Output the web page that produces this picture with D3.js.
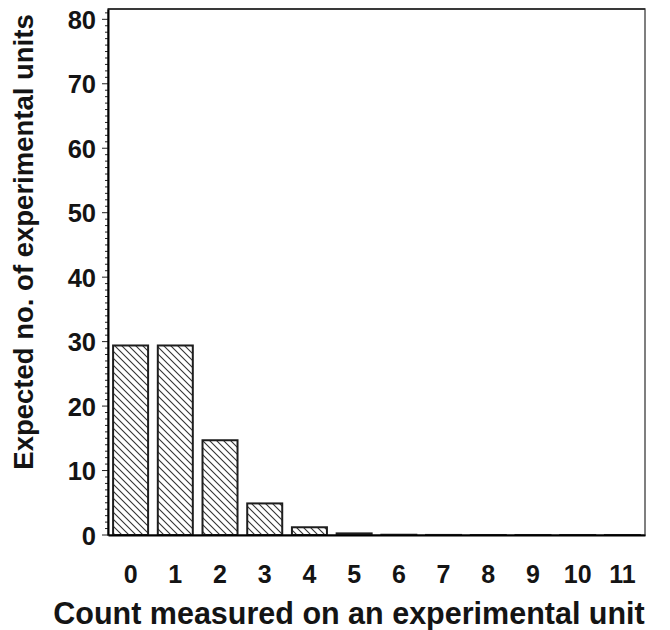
<!DOCTYPE html>
<html><head><meta charset="utf-8">
<script src="https://cdn.jsdelivr.net/npm/d3@7"></script>
<style>
html,body{margin:0;padding:0;background:#fff;}
text{font-family:"Liberation Sans",Arial,sans-serif;font-weight:bold;fill:#141414;}
</style></head>
<body>
<svg id="chart" width="670" height="630"></svg>
<script>
const categories = ["0","1","2","3","4","5","6","7","8","9","10","11"];
const expectedUnits = [29.4, 29.4, 14.7, 4.9, 1.2, 0.25, 0.04, 0.01, 0.001, 0.001, 0.001, 0.001];
const yTickValues = [0, 10, 20, 30, 40, 50, 60, 70, 80];
const xTitle = "Count measured on an experimental unit";
const yTitle = "Expected no. of experimental units";

(function(){
const svg = d3.select("#chart");
const pLeft = 108, pRight = 645, pTop = 9, pBottom = 535;

const x = d3.scaleBand().domain(categories).range([pLeft, pRight]).paddingInner(0.217).paddingOuter(0.114);
const y = d3.scaleLinear().domain([0, 81.6]).range([pBottom, pTop]);

const defs = svg.append("defs");
const pat = defs.append("pattern").attr("id","hatch").attr("patternUnits","userSpaceOnUse")
  .attr("width",7).attr("height",7);
pat.append("rect").attr("width",7).attr("height",7).attr("fill","#fff");
pat.append("path").attr("d","M-1,-1 L8,8 M-1,6 L1,8 M6,-1 L8,1").attr("stroke","#333").attr("stroke-width",1.1);

// frame
svg.append("rect").attr("x",pLeft).attr("y",pTop).attr("width",pRight-pLeft).attr("height",pBottom-pTop)
  .attr("fill","none").attr("stroke","#555").attr("stroke-width",1.5);
svg.append("line").attr("x1",pLeft).attr("x2",pRight).attr("y1",pTop).attr("y2",pTop).attr("stroke","#222").attr("stroke-width",1.5);

// bars
svg.append("g").selectAll("rect").data(expectedUnits).join("rect")
  .attr("x",(d,i)=>x(categories[i]))
  .attr("width",x.bandwidth())
  .attr("y",d=>y(d))
  .attr("height",d=>pBottom - y(d))
  .attr("fill","url(#hatch)")
  .attr("stroke","#1e1e1e").attr("stroke-width",2);

// y axis minor ticks
const minor = d3.range(0, 82, 1);
svg.append("g").selectAll("line").data(minor).join("line")
  .attr("x1",pLeft).attr("x2",d=> d%10===0 ? pLeft-6 : pLeft-3)
  .attr("y1",d=>y(d)).attr("y2",d=>y(d))
  .attr("stroke","#222").attr("stroke-width",1);

// y axis
const yAxis = d3.axisLeft(y).tickValues(yTickValues).tickSize(0).tickPadding(12);
const gy = svg.append("g").attr("transform",`translate(${pLeft},0)`).call(yAxis);
gy.select(".domain").attr("stroke","#000").attr("stroke-width",2);
gy.selectAll("text").style("font-size","25.5px").attr("fill","#141414").attr("dy","0.36em");

// x axis
const xAxis = d3.axisBottom(x).tickSize(0).tickPadding(30);
const gx = svg.append("g").attr("transform",`translate(0,${pBottom})`).call(xAxis);
gx.select(".domain").attr("stroke","#000").attr("stroke-width",2);
gx.selectAll(".tick text").style("font-size","25px").attr("fill","#141414").attr("dy","0").attr("y",48);

// titles
svg.append("text").attr("x",349).attr("y",624).attr("text-anchor","middle")
  .style("font-size","30.5px").text(xTitle);
svg.append("text").attr("transform","translate(33,242) rotate(-90)").attr("text-anchor","middle")
  .style("font-size","27.5px").text(yTitle);
})();
</script>
</body></html>
